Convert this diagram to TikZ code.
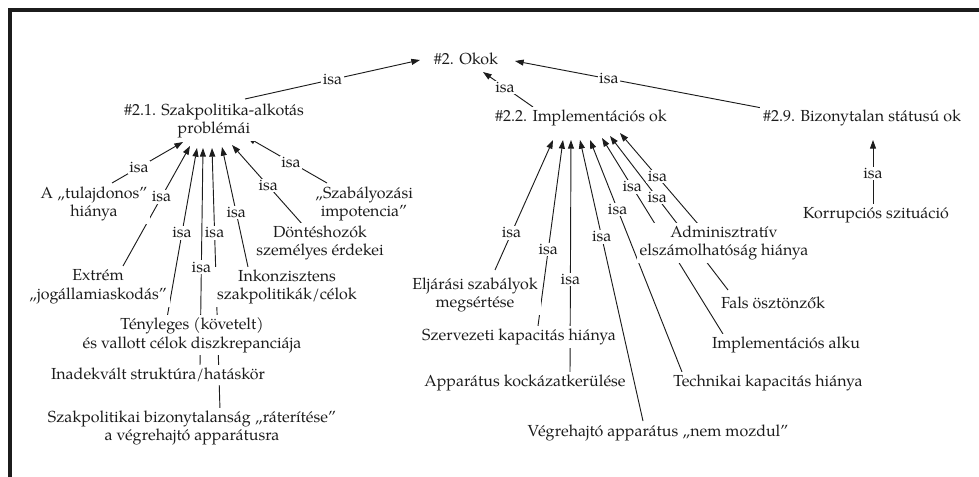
\documentclass[tikz,border=0pt]{standalone}
\usepackage{fontspec}
\setmainfont{TeX Gyre Pagella}
\usepackage{tikz}
\usetikzlibrary{arrows.meta,calc,backgrounds}
\definecolor{ink}{HTML}{1C1C1C}
\tikzset{
  >={Triangle[length=6.5pt,width=4.5pt]},
  cls/.style={fill=white,inner sep=2.2pt,align=center,font=\fontsize{12}{14}\selectfont,text=ink},
  isa/.style={fill=white,inner sep=1pt,font=\fontsize{12}{14}\selectfont,text=ink},
  isarr/.style={->,draw=ink,line width=0.7pt},
  boxline/.style={draw=ink,line width=2.4pt},
}

\begin{document}
\begin{tikzpicture}[x=0.75pt,y=-0.75pt]
\useasboundingbox (0,0) rectangle (979,477);
\draw[boxline] (10,477) -- (10,10) -- (979,10);
\node[cls] (okok) at (466,59) {\#2. Okok};
\node[cls] (szakp) at (214,121) {\#2.1. Szakpolitika-alkotás\\problémái};
\node[cls] (impl) at (581,118) {\#2.2. Implementációs ok};
\node[cls] (bizst) at (862,118) {\#2.9. Bizonytalan státusú ok};
\node[cls] (tulaj) at (94,204) {A „tulajdonos”\\hiánya};
\node[cls] (extrem) at (98,287) {Extrém\\„jogállamiaskodás”};
\node[cls] (teny) at (192,335) {Tényleges (követelt)\\és vallott célok diszkrepanciája};
\node[cls] (inadek) at (158,375) {Inadekvált struktúra/hatáskör};
\node[cls] (raterit) at (192,428) {Szakpolitikai bizonytalanság „ráterítése”\\a végrehajtó apparátusra};
\node[cls] (inkonz) at (287,287) {Inkonzisztens\\szakpolitikák/célok};
\node[cls] (dontes) at (320,243) {Döntéshozók\\személyes érdekei};
\node[cls] (szabimp) at (364,204) {„Szabályozási\\impotencia”};
\node[cls] (eljar) at (475,295) {Eljárási szabályok\\megsértése};
\node[cls] (szerv) at (519,337) {Szervezeti kapacitás hiánya};
\node[cls] (appkock) at (525,383) {Apparátus kockázatkerülése};
\node[cls] (nemmoz) at (658,433) {Végrehajtó apparátus „nem mozdul”};
\node[cls] (techn) at (768,383) {Technikai kapacitás hiánya};
\node[cls] (alku) at (786,345) {Implementációs alku};
\node[cls] (fals) at (773,303) {Fals ösztönzők};
\node[cls] (admin) at (724,243) {Adminisztratív\\elszámolhatóság hiánya};
\node[cls] (korr) at (876,215) {Korrupciós szituáció};
\begin{scope}[on background layer]
\draw[isarr] ($(szakp.center)+(31,-22)$) -- node[isa,pos=.5]{isa} ($(okok.center)+(-46,1)$);
\draw[isarr] ($(impl.center)+(-48,-11)$) -- node[isa,pos=.56]{isa} ($(okok.center)+(17,13)$);
\draw[isarr] ($(bizst.center)+(-100,-10)$) -- node[isa,pos=.62]{isa} ($(okok.center)+(49,2)$);
\draw[isarr] ($(tulaj.center)+(18,-21)$) -- node[isa,pos=.38]{isa} ($(szakp.center)+(-31,21)$);
\draw[isarr] ($(extrem.center)+(25,-21)$) -- node[isa,pos=.575]{isa} ($(szakp.center)+(-24,25)$);
\draw[isarr] ($(teny.center)+(-25,-17)$) -- node[isa,pos=.5]{isa} ($(szakp.center)+(-17,27)$);
\draw[isarr] ($(inadek.center)+(42,-9)$) -- node[isa,pos=.454]{isa} ($(szakp.center)+(-11,27)$);
\draw[isarr] ($(raterit.center)+(28,-18)$) -- node[isa,pos=.676]{isa} ($(szakp.center)+(-2,27)$);
\draw[isarr] ($(inkonz.center)+(-39,-20)$) -- node[isa,pos=.454]{isa} ($(szakp.center)+(8,26)$);
\draw[isarr] ($(dontes.center)+(-17,-18)$) -- node[isa,pos=.49]{isa} ($(szakp.center)+(18,24)$);
\draw[isarr] ($(szabimp.center)+(-37,-21)$) -- node[isa,pos=.45]{isa} ($(szakp.center)+(33,16)$);
\draw[isarr] ($(eljar.center)+(20,-25)$) -- node[isa,pos=.285]{isa} ($(impl.center)+(-28,22)$);
\draw[isarr] ($(szerv.center)+(19,-11)$) -- node[isa,pos=.41]{isa} ($(impl.center)+(-18,22)$);
\draw[isarr] ($(appkock.center)+(45,-10)$) -- node[isa,pos=.4]{isa} ($(impl.center)+(-10,22)$);
\draw[isarr] ($(nemmoz.center)+(-15,-12)$) -- node[isa,pos=.655]{isa} ($(impl.center)+(-1,22)$);
\draw[isarr] ($(techn.center)+(-86,-11)$) -- node[isa,pos=.7]{isa} ($(impl.center)+(9,22)$);
\draw[isarr] ($(alku.center)+(-63,-11)$) -- node[isa,pos=.75]{isa} ($(impl.center)+(21,20)$);
\draw[isarr] ($(fals.center)+(-45,-13)$) -- node[isa,pos=.6]{isa} ($(impl.center)+(29,18)$);
\draw[isarr] ($(admin.center)+(-26,-19)$) -- node[isa,pos=.52]{isa} ($(impl.center)+(39,15)$);
\draw[isarr] ($(korr.center)+(-3,-10)$) -- node[isa,pos=.49]{isa} ($(bizst.center)+(11,22)$);
\end{scope}
\end{tikzpicture}
\end{document}
